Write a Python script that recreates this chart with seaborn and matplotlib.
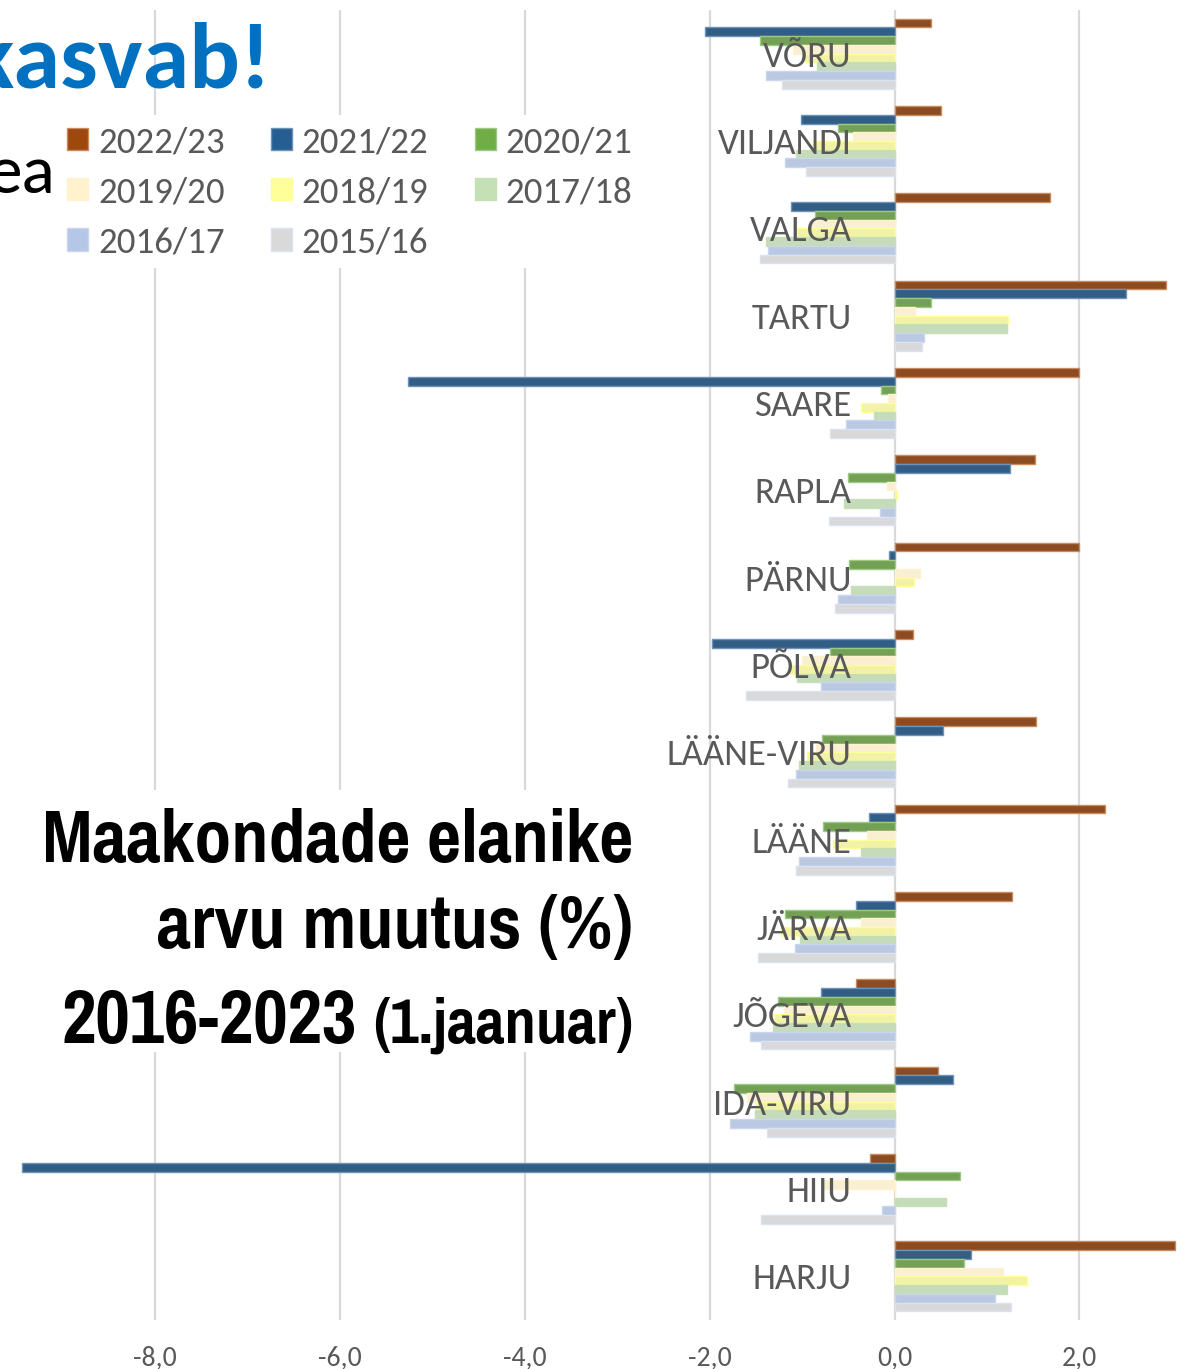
import numpy as np
import matplotlib.pyplot as plt
import pandas as pd
import seaborn as sns
from matplotlib.patches import Patch, Rectangle

# counties (top to bottom) and the yearly population change in %
counties = ['VÕRU', 'VILJANDI', 'VALGA', 'TARTU', 'SAARE', 'RAPLA', 'PÄRNU', 'PÕLVA',
            'LÄÄNE-VIRU', 'LÄÄNE', 'JÄRVA', 'JÕGEVA', 'IDA-VIRU', 'HIIU', 'HARJU']
years = ['2022/23', '2021/22', '2020/21', '2019/20', '2018/19', '2017/18', '2016/17', '2015/16']

y2022_23 = [0.40, 0.50, 1.68, 2.94, 2.00, 1.52, 2.00, 0.20, 1.53, 2.28, 1.27, -0.42, 0.47, -0.27, 3.04]
y2021_22 = [-2.05, -1.01, -1.12, 2.50, -5.26, 1.25, -0.06, -1.98, 0.52, -0.28, -0.42, -0.80, 0.63, -9.44, 0.83]
y2020_21 = [-1.46, -0.61, -0.86, 0.39, -0.15, -0.50, -0.49, -0.70, -0.78, -0.77, -1.18, -1.26, -1.74, 0.71, 0.75]
y2019_20 = [-1.10, -0.45, -0.90, 0.22, -0.07, -0.08, 0.28, -1.00, -0.85, -0.30, -0.36, -1.20, -1.60, -0.76, 1.17]
y2018_19 = [-0.97, -0.88, -1.06, 1.23, -0.36, 0.03, 0.21, -1.13, -0.95, -0.67, -1.23, -1.30, -1.50, 0.00, 1.43]
y2017_18 = [-0.84, -1.07, -1.39, 1.22, -0.22, -0.55, -0.47, -1.06, -1.03, -0.36, -1.02, -1.32, -1.51, 0.56, 1.22]
y2016_17 = [-1.39, -1.18, -1.37, 0.32, -0.52, -0.16, -0.61, -0.80, -1.07, -1.03, -1.08, -1.56, -1.78, -0.14, 1.09]
y2015_16 = [-1.22, -0.96, -1.46, 0.30, -0.70, -0.71, -0.64, -1.61, -1.15, -1.07, -1.48, -1.45, -1.38, -1.44, 1.26]

series = [y2022_23, y2021_22, y2020_21, y2019_20, y2018_19, y2017_18, y2016_17, y2015_16]
colors = ['#9E480E', '#255E91', '#70AD47', '#FFF2CC', '#FFFF99', '#C5E0B4', '#B4C7E7', '#D9D9D9']
edges = ['#c98a5e', '#6f93b8', '#9cc983', '#fff2cc', '#ffff99', '#c5e0b4', '#c9d6ee', '#dae3f3']

x_ticks = [-8, -6, -4, -2, 0, 2]
x_labels = ['-8,0', '-6,0', '-4,0', '-2,0', '0,0', '2,0']

# long table for seaborn
rows = []
for yr, vals in zip(years, series):
    for c, v in zip(counties, vals):
        rows.append({'county': c, 'year': yr, 'value': v})
data = pd.DataFrame(rows)

# fonts: Carlito stands in for Calibri, Pragati Narrow for Arial Narrow
label_font = 'Carlito'
narrow = 'Pragati Narrow'
grey_txt = '#595959'

W, H = 1181, 1369
fig = plt.figure(figsize=(W / 100, H / 100), dpi=100)
ax = fig.add_axes([0, (H - 1320) / H, 1, (1320 - 10) / H])

sns.barplot(data=data, y='county', x='value', hue='year', order=counties, hue_order=years,
            palette=colors, orient='h', width=0.8, legend=False, ax=ax, zorder=2)

# light outlines like the excel bars
for cont, ec in zip(ax.containers, edges):
    for bar in cont:
        bar.set_edgecolor(ec)
        bar.set_linewidth(1.0)

ax.set_xlim(-9.68, 3.10)
ax.set_ylim(14.5, -0.5)
ax.set_xticks(x_ticks)
ax.set_xticklabels(x_labels, fontsize=20, color=grey_txt, family=label_font)
ax.grid(axis='x', color='#d9d9d9', lw=1.6)
ax.set_axisbelow(True)
ax.yaxis.set_zorder(5)   # county names on top of the bars
for s in ax.spines.values():
    s.set_visible(False)
ax.spines['left'].set_position(('data', 0))
ax.tick_params(axis='x', length=0, pad=18)
ax.tick_params(axis='y', length=0, pad=31)
for lab in ax.get_yticklabels():
    lab.set_fontsize(26.5)
    lab.set_color(grey_txt)
    lab.set_family(label_font)
ax.set_xlabel('')
ax.set_ylabel('')

# legend, filled row by row
handles = [Patch(facecolor=c, edgecolor=e, lw=1) for c, e in zip(colors, edges)]
order = [0, 3, 6, 1, 4, 7, 2, 5]
fig.patches.append(Rectangle((55 / W, 1 - 268 / H), 600 / W, 153 / H, transform=fig.transFigure,
                             facecolor='white', edgecolor='none', zorder=1))
leg = fig.legend([handles[i] for i in order], [years[i] for i in order], ncol=3,
                 loc='upper left', bbox_to_anchor=(67 / W, 1 - 126 / H), frameon=False,
                 borderpad=0, borderaxespad=0, handlelength=0.57, handleheight=0.57,
                 handletextpad=0.27, columnspacing=1.25, labelspacing=0.49,
                 prop={'family': label_font, 'size': 26.6})
for t in leg.get_texts():
    t.set_color(grey_txt)

# slide texts that are cut off at the left edge
fig.text(271 / W, 1 - 87 / H, 'kasvab!', ha='right', va='baseline', fontsize=68,
         fontweight='bold', color='#0070C0', family=label_font)
fig.text(55 / W, 1 - 193 / H, 'ea', ha='right', va='baseline', fontsize=50,
         color='black', family=label_font)

# title block with white background
fig.patches.append(Rectangle((30 / W, 1 - 1052 / H), 610 / W, 262 / H, transform=fig.transFigure,
                             facecolor='white', edgecolor='none', zorder=1))
fig.text(633 / W, 1 - 862 / H, 'Maakondade elanike', ha='right', va='baseline', fontsize=58,
         fontweight='bold', family=narrow)
fig.text(633 / W, 1 - 948 / H, 'arvu muutus (%)', ha='right', va='baseline', fontsize=58,
         fontweight='bold', family=narrow)
sub = fig.text(633 / W, 1 - 1043 / H, '(1.jaanuar)', ha='right', va='baseline', fontsize=49,
               fontweight='bold', family=narrow)
fig.canvas.draw()
x0 = sub.get_window_extent().x0
fig.text((x0 - 16) / W, 1 - 1043 / H, '2016-2023', ha='right', va='baseline', fontsize=59,
         fontweight='bold', family=narrow)

plt.savefig('out.png', dpi=100)
plt.close()
